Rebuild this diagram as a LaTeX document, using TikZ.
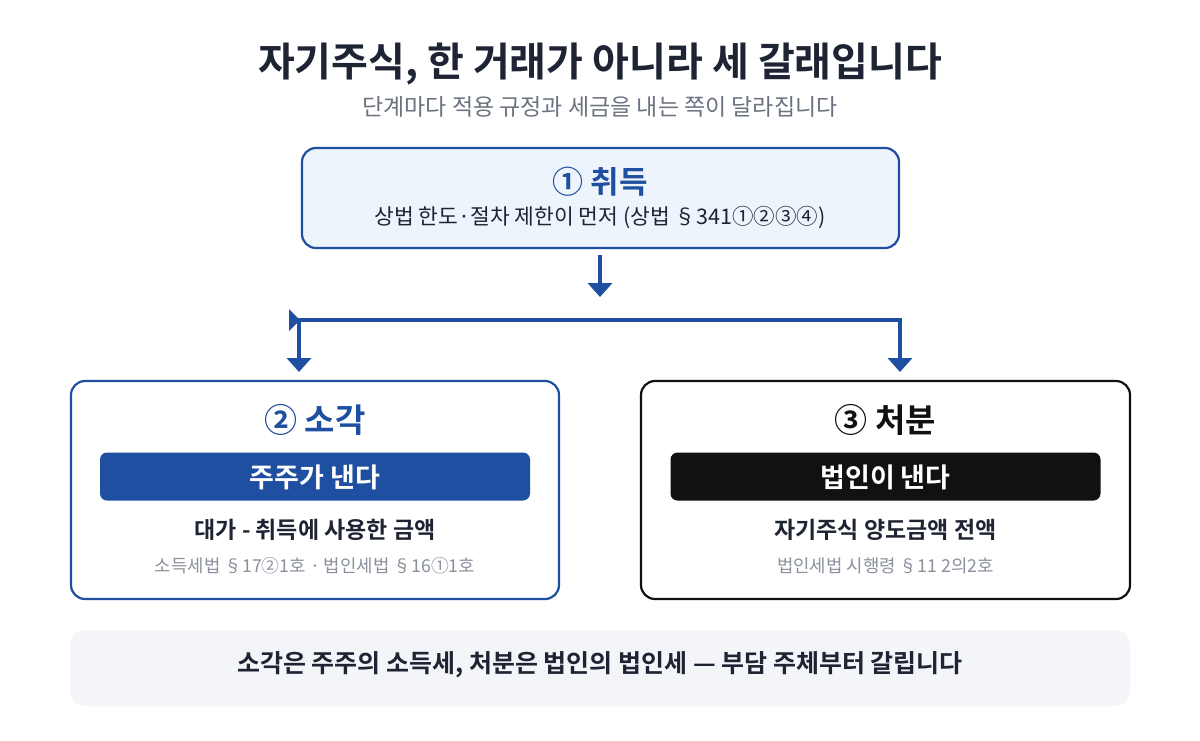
\documentclass[tikz,border=0pt]{standalone}
\usepackage{fontspec}
\setmainfont{Noto Sans CJK KR}
\newfontfamily\krb{Noto Sans CJK KR Bold}
\usetikzlibrary{arrows.meta}
\definecolor{cblue}{HTML}{1F4FA0}
\definecolor{cdark}{HTML}{1E2433}
\definecolor{cgray}{HTML}{6B7280}
\definecolor{cgray2}{HTML}{8A909C}
\definecolor{cfill1}{HTML}{EEF4FC}
\definecolor{cnote}{HTML}{F4F5F9}
\definecolor{cblack}{HTML}{111111}
\tikzset{
  stagebox/.style={draw, line width=2.2pt, rounded corners=14pt, minimum width=#1, inner sep=0pt},
  barbox/.style={rounded corners=7pt, minimum width=430pt, minimum height=48pt, inner sep=0pt},
  flowline/.style={draw=cblue, line width=4pt},
  flowarr/.style={flowline, -{Triangle[width=24pt,length=14pt]}},
  txt/.style={inner sep=0pt, anchor=center}
}
\begin{document}
\begin{tikzpicture}[x=1pt,y=-1pt]
\useasboundingbox[fill=white] (0,0) rectangle (1200,740);
% title
\node[txt, text=cdark, font=\krb\fontsize{40}{44}\selectfont] (title) at (600,64) {자기주식, 한 거래가 아니라 세 갈래입니다};
\node[txt, text=cgray, font=\fontsize{23}{26}\selectfont] (sub) at (600,107) {단계마다 적용 규정과 세금을 내는 쪽이 달라집니다};
% box 1
\node[stagebox=597pt, draw=cblue, fill=cfill1, minimum height=100pt] (b1) at (600.5,198) {};
\node[txt, text=cblue, font=\krb\fontsize{31}{34}\selectfont] (b1t) at (600,182) {① 취득};
\node[txt, text=cdark, font=\fontsize{21.5}{24}\selectfont] (b1s) at (600,218) {상법 한도·절차 제한이 먼저 (상법 §341①②③④)};
% box 2
\node[stagebox=488pt, draw=cblue, fill=white, minimum height=218pt] (b2) at (315,490) {};
\node[txt, text=cblue, font=\krb\fontsize{33}{36}\selectfont] (b2t) at (315,420) {② 소각};
\node[barbox, fill=cblue] (bar2) at (315,476.5) {};
\node[txt, text=white, font=\krb\fontsize{27}{30}\selectfont] (bar2t) at (315,477) {주주가 낸다};
\node[txt, text=cdark, font=\krb\fontsize{23}{26}\selectfont] (b2a) at (315,530) {대가 - 취득에 사용한 금액};
\node[txt, text=cgray2, font=\fontsize{17.8}{20}\selectfont] (b2b) at (315,566) {소득세법 §17②1호 · 법인세법 §16①1호};
% box 3
\node[stagebox=489pt, draw=cblack, fill=white, minimum height=218pt] (b3) at (885.5,490) {};
\node[txt, text=cblack, font=\krb\fontsize{33}{36}\selectfont] (b3t) at (885.5,420) {③ 처분};
\node[barbox, fill=cblack] (bar3) at (885.5,476.5) {};
\node[txt, text=white, font=\krb\fontsize{27}{30}\selectfont] (bar3t) at (885.5,477) {법인이 낸다};
\node[txt, text=cdark, font=\krb\fontsize{23}{26}\selectfont] (b3a) at (885.5,530) {자기주식 양도금액 전액};
\node[txt, text=cgray2, font=\fontsize{17.8}{20}\selectfont] (b3b) at (885.5,566) {법인세법 시행령 §11 2의2호};
% note
\node[fill=cnote, rounded corners=14pt, minimum width=1060pt, minimum height=76pt, inner sep=0pt] (note) at (600,668) {};
\node[txt, text=cdark, font=\krb\fontsize{25}{28}\selectfont] (notet) at (600,665) {소각은 주주의 소득세, 처분은 법인의 법인세 — 부담 주체부터 갈립니다};
% connectors
\coordinate (a1s) at (600,255);
\coordinate (a1e) at (600,297);
\coordinate (jl) at (290,320);
\coordinate (jlc) at (299,320);
\coordinate (jr) at (900,320);
\coordinate (dl) at (299,372);
\coordinate (dr) at (900,372);
\draw[flowarr] (a1s) -- (a1e);
\draw[flowarr, line join=miter] (jl) -- (jr) -- (dr);
\draw[flowarr] (jlc) -- (dl);
\fill[cblue] (289,309) -- (300,320) -- (289,331) -- cycle;
\end{tikzpicture}
\end{document}
